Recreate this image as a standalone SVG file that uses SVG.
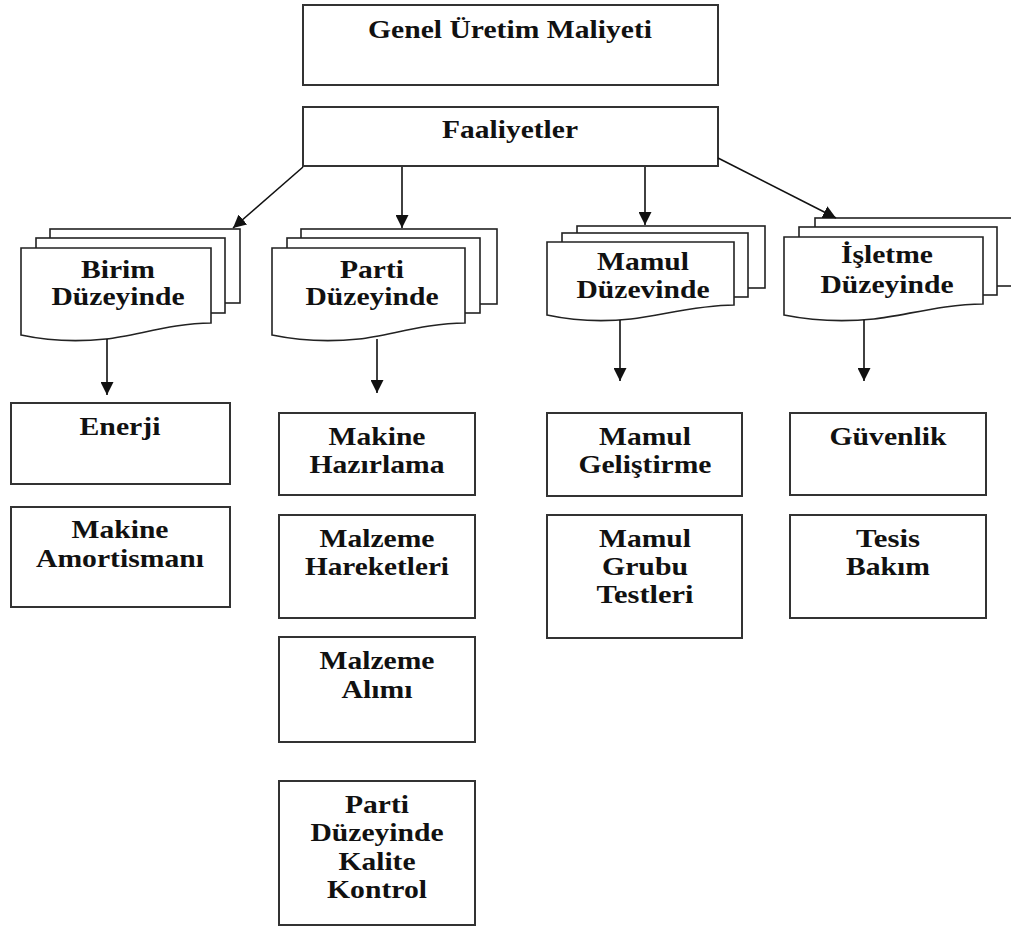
<svg xmlns="http://www.w3.org/2000/svg" width="1011" height="927" viewBox="0 0 1011 927">
<style>
.box{fill:#fff;stroke:#333;stroke-width:2}
.sheet{fill:#fff;stroke:#222;stroke-width:1.6}
.t{font-family:"Liberation Serif","Times New Roman",serif;font-weight:bold;font-size:26px;fill:#111;text-anchor:middle}
.c{stroke:#111;stroke-width:1.6;fill:none;marker-end:url(#ah)}
</style>
<defs>
<marker id="ah" markerUnits="userSpaceOnUse" markerWidth="13" markerHeight="13" refX="13" refY="6.5" orient="auto">
<path d="M0,0 L13,6.5 L0,13 Z" fill="#111"/>
</marker>
</defs>
<rect width="1011" height="927" fill="#fff"/>

<g id="genel">
<rect class="box" x="303" y="5" width="415" height="80"/>
<text class="t" x="510" y="38" textLength="284" lengthAdjust="spacingAndGlyphs">Genel Üretim Maliyeti</text>
</g>
<g id="faaliyetler">
<rect class="box" x="303" y="107" width="415" height="59"/>
<text class="t" x="510" y="138" textLength="136" lengthAdjust="spacingAndGlyphs">Faaliyetler</text>
</g>

<g id="birim">
<rect class="sheet" x="50" y="229" width="190" height="74"/>
<rect class="sheet" x="36" y="238" width="189" height="75"/>
<path class="sheet" d="M21,248 H211 V323 C173,323 135,336 106,339 C78,342 49,341 21,335 Z"/>
<text class="t" x="118" y="278" textLength="74" lengthAdjust="spacingAndGlyphs">Birim</text>
<text class="t" x="118" y="305" textLength="133" lengthAdjust="spacingAndGlyphs">Düzeyinde</text>
</g>
<g id="parti">
<rect class="sheet" x="301" y="229" width="196" height="75"/>
<rect class="sheet" x="287" y="238" width="193" height="75"/>
<path class="sheet" d="M272,248 H465 V323 C426,323 388,336 359,339 C330,342 301,341 272,335 Z"/>
<text class="t" x="372" y="278" textLength="64" lengthAdjust="spacingAndGlyphs">Parti</text>
<text class="t" x="372" y="305" textLength="133" lengthAdjust="spacingAndGlyphs">Düzeyinde</text>
</g>
<g id="mamul">
<rect class="sheet" x="577" y="226" width="188" height="62"/>
<rect class="sheet" x="562" y="233" width="186" height="64"/>
<path class="sheet" d="M547,242 H734 V305 C697,305 659,316 631,319 C603,322 575,321 547,315 Z"/>
<text class="t" x="643" y="270" textLength="92" lengthAdjust="spacingAndGlyphs">Mamul</text>
<text class="t" x="643" y="298" textLength="133" lengthAdjust="spacingAndGlyphs">Düzevinde</text>
</g>
<g id="isletme">
<rect class="sheet" x="815" y="218" width="205" height="68"/>
<rect class="sheet" x="799" y="227" width="198" height="68"/>
<path class="sheet" d="M784,237 H983 V304 C943,304 903,316 874,319 C844,322 814,321 784,315 Z"/>
<text class="t" x="887" y="263" textLength="92" lengthAdjust="spacingAndGlyphs">İşletme</text>
<text class="t" x="887" y="293" textLength="133" lengthAdjust="spacingAndGlyphs">Düzeyinde</text>
</g>

<g id="enerji">
<rect class="box" x="11" y="403" width="219" height="81"/>
<text class="t" x="120" y="435" textLength="81" lengthAdjust="spacingAndGlyphs">Enerji</text>
</g>
<g id="makine-amortismani">
<rect class="box" x="11" y="507" width="219" height="100"/>
<text class="t" x="120" y="538" textLength="97" lengthAdjust="spacingAndGlyphs">Makine</text>
<text class="t" x="120" y="567" textLength="168" lengthAdjust="spacingAndGlyphs">Amortismanı</text>
</g>

<g id="makine-hazirlama">
<rect class="box" x="279" y="413" width="196" height="82"/>
<text class="t" x="377" y="445" textLength="97" lengthAdjust="spacingAndGlyphs">Makine</text>
<text class="t" x="377" y="473" textLength="135" lengthAdjust="spacingAndGlyphs">Hazırlama</text>
</g>
<g id="malzeme-hareketleri">
<rect class="box" x="279" y="515" width="196" height="103"/>
<text class="t" x="377" y="547" textLength="115" lengthAdjust="spacingAndGlyphs">Malzeme</text>
<text class="t" x="377" y="575" textLength="144" lengthAdjust="spacingAndGlyphs">Hareketleri</text>
</g>
<g id="malzeme-alimi">
<rect class="box" x="279" y="637" width="196" height="105"/>
<text class="t" x="377" y="669" textLength="115" lengthAdjust="spacingAndGlyphs">Malzeme</text>
<text class="t" x="377" y="698" textLength="71" lengthAdjust="spacingAndGlyphs">Alımı</text>
</g>
<g id="kalite-kontrol">
<rect class="box" x="279" y="781" width="196" height="144"/>
<text class="t" x="377" y="813" textLength="64" lengthAdjust="spacingAndGlyphs">Parti</text>
<text class="t" x="377" y="841" textLength="133" lengthAdjust="spacingAndGlyphs">Düzeyinde</text>
<text class="t" x="377" y="870" textLength="77" lengthAdjust="spacingAndGlyphs">Kalite</text>
<text class="t" x="377" y="898" textLength="100" lengthAdjust="spacingAndGlyphs">Kontrol</text>
</g>

<g id="mamul-gelistirme">
<rect class="box" x="547" y="413" width="195" height="83"/>
<text class="t" x="645" y="445" textLength="92" lengthAdjust="spacingAndGlyphs">Mamul</text>
<text class="t" x="645" y="473" textLength="133" lengthAdjust="spacingAndGlyphs">Geliştirme</text>
</g>
<g id="mamul-grubu-testleri">
<rect class="box" x="547" y="515" width="195" height="123"/>
<text class="t" x="645" y="547" textLength="92" lengthAdjust="spacingAndGlyphs">Mamul</text>
<text class="t" x="645" y="575" textLength="86" lengthAdjust="spacingAndGlyphs">Grubu</text>
<text class="t" x="645" y="603" textLength="97" lengthAdjust="spacingAndGlyphs">Testleri</text>
</g>

<g id="guvenlik">
<rect class="box" x="790" y="413" width="196" height="82"/>
<text class="t" x="888" y="445" textLength="117" lengthAdjust="spacingAndGlyphs">Güvenlik</text>
</g>
<g id="tesis-bakim">
<rect class="box" x="790" y="515" width="196" height="103"/>
<text class="t" x="888" y="547" textLength="64" lengthAdjust="spacingAndGlyphs">Tesis</text>
<text class="t" x="888" y="575" textLength="84" lengthAdjust="spacingAndGlyphs">Bakım</text>
</g>

<g id="connectors">
<line class="c" x1="303" y1="167" x2="233" y2="228"/>
<line class="c" x1="402" y1="167" x2="402" y2="228"/>
<line class="c" x1="645" y1="167" x2="645" y2="225"/>
<line class="c" x1="718" y1="158" x2="836" y2="218"/>
<line class="c" x1="107" y1="339" x2="107" y2="395"/>
<line class="c" x1="377" y1="339" x2="377" y2="393"/>
<line class="c" x1="620" y1="320" x2="620" y2="381"/>
<line class="c" x1="864" y1="320" x2="864" y2="381"/>
</g>
</svg>
